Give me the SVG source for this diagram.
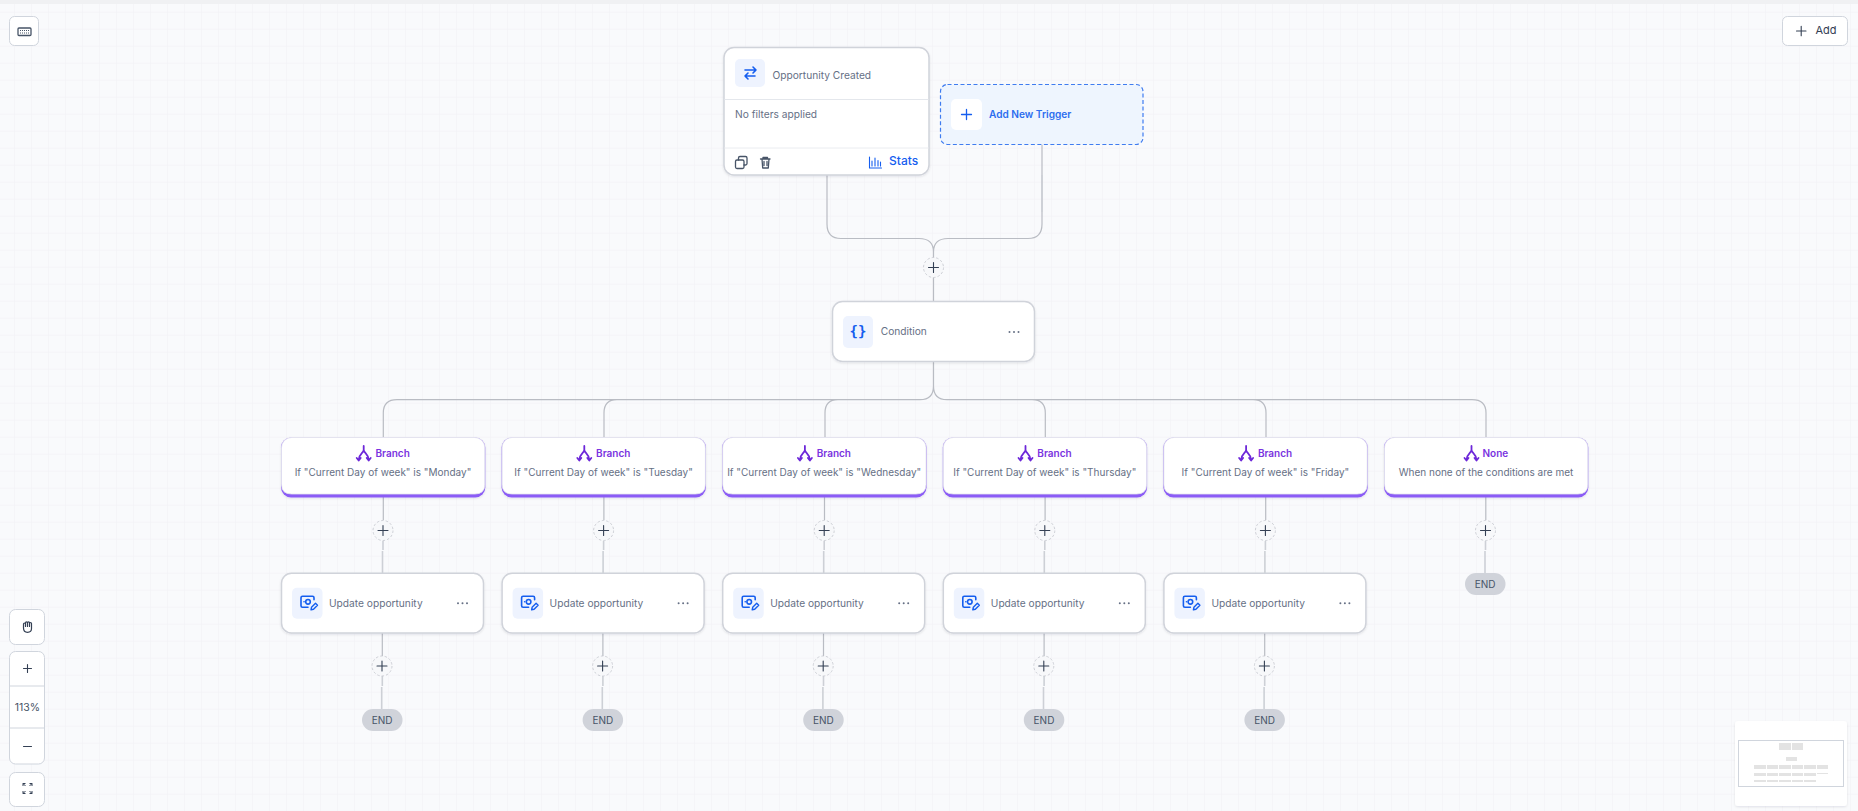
<svg xmlns="http://www.w3.org/2000/svg" width="1858" height="811" viewBox="0 0 1858 811">
<style>
text{font-family:Inter,"Liberation Sans",sans-serif}
.card{fill:#fff;stroke:#d0d3da;stroke-width:1.5;filter:url(#sh)}
.ib{fill:#eef3fe}
.lbl{font-size:10.200px;fill:#667085}
.ic{fill:none;stroke:#155eef;stroke-width:1.6;stroke-linecap:round;stroke-linejoin:round}
.br{font-size:10px;font-weight:600;fill:#7a33e0}
.bric{fill:none;stroke:#6d28d9;stroke-width:1.800;stroke-linecap:round;stroke-linejoin:round}
.cond{font-size:10px;fill:#667085;text-anchor:middle}
.edge{fill:none;stroke:#b9bcc3;stroke-width:1.2}
.edge2{fill:none;stroke:#cdd0d6;stroke-width:1.600}
.dk{fill:none;stroke:#344054;stroke-width:1.100;stroke-linecap:round}
.plusc{fill:#f7f8fa;stroke:#c8cbd1;stroke-width:.9;stroke-dasharray:2.5 2}
.end{fill:#d0d3da}
.endt{font-size:10px;fill:#475467;text-anchor:middle}
.dots{fill:#667085}
.ctl{fill:#fff;stroke:#d0d5dd;stroke-width:1}
.mm{fill:#e3e3e3}
.bcard{fill:#fff;stroke:#e4e7ec;stroke-width:.8}
</style>
<defs>
<filter id="sh" x="-5%" y="-10%" width="110%" height="125%"><feDropShadow dx="0" dy="1" stdDeviation="1.2" flood-color="#101828" flood-opacity=".1"/></filter>
<pattern id="grid" width="17" height="17" patternUnits="userSpaceOnUse" patternTransform="translate(-2 -4.300)"><path d="M17 0V17M0 17H17" fill="none" stroke="#f3f4f7" stroke-width="1.500"/></pattern>
<g id="plus"><circle r="10" class="plusc"/><path class="dk" d="M-5 0H5M0-5V5"/></g>
<g id="dots" class="dots"><circle cx="-4.500" r="1"/><circle r="1"/><circle cx="4.500" r="1"/></g>
<g id="upd">
<rect x="11" y="14.500" width="30.500" height="31" rx="5" class="ib"/>
<g class="ic"><path d="M33 26.500V24.500a1.500 1.500 0 0 0-1.500-1.500H21.500a1.500 1.500 0 0 0-1.500 1.500v8a1.500 1.500 0 0 0 1.500 1.500H27"/><circle cx="27" cy="28.500" r="2.300"/><path d="M23 28.500h.1"/><path d="M30 36.500l.5-2.500 4-4 2 2-4 4z" stroke-width="1.400"/></g>
<text x="48" y="34.200" class="lbl">Update opportunity</text>
<use href="#dots" x="181.500" y="30"/>
</g>
<g id="bric" class="bric"><path d="M0-7V-3C0 0-5 1-5 7M0-3C0 0 5 1 5 7M-7 5l2 2.500 2-2.500M3 5l2 2.500 2-2.500"/></g>
</defs>
<rect width="1858" height="811" fill="#f9fafc"/>
<rect width="1858" height="811" fill="url(#grid)"/>
<rect width="1858" height="4" fill="#f0f1f3"/>

<g id="connectors">
<path class="edge" d="M827 175V224Q827 238.500 841 238.500H919Q933.500 238.500 933.500 252M1042 144.500V224Q1042 238.500 1028 238.500H948Q933.500 238.500 933.500 252V302"/>
<path class="edge" d="M933.500 361V386Q933.500 399.700 920 399.700H397Q383.300 399.700 383.300 413V438M933.500 386Q933.500 399.700 947 399.700H1472Q1486 399.700 1486 413V438M604 438V413Q604 399.700 617 399.700M825 438V413Q825 399.700 838 399.700M1045.300 438V413Q1045.300 399.700 1032 399.700M1266 438V413Q1266 399.700 1253 399.700"/>
<path class="edge" d="M383.300 497V520M382.300 633V656M603.900 497V520M602.900 633V656M824.500 497V520M823.500 633V656M1045.100 497V520M1044.100 633V656M1265.700 497V520M1264.700 633V656M1485.800 497V520"/>
<path class="edge2" d="M382.500 551V573M381.700 687V709M603.100 551V573M602.300 687V709M823.700 551V573M822.900 687V709M1044.300 551V573M1043.500 687V709M1264.900 551V573M1264.100 687V709M1485 551V573"/>
<path class="edge2" d="M383 541V550M382.300 676V686M603.600 541V550M602.900 676V686M824.200 541V550M823.500 676V686M1044.800 541V550M1044.100 676V686M1265.400 541V550M1264.700 676V686M1485.500 541V550"/>
<path class="edge2" d="M1042 175V212"/>
</g>

<g id="trigger">
<rect x="724" y="47.500" width="205" height="127.500" rx="10" class="card"/>
<path d="M724.500 99.500H928.500" stroke="#e4e7ec"/><path d="M724.500 148H928.500" stroke="#eaecf0"/>
<rect x="735" y="59" width="30" height="28" rx="5" class="ib"/>
<path class="ic" d="M745 70.500H756M753 67.500l3 3-3 3M755 76.500H745M748 73.500l-3 3 3 3" transform="translate(0 -.5)"/>
<text x="772.500" y="79" class="lbl">Opportunity Created</text>
<text x="735" y="117.500" class="lbl">No filters applied</text>
<g fill="none" stroke="#475467" stroke-width="1.300" stroke-linejoin="round" stroke-linecap="round"><rect x="735.500" y="160" width="8.500" height="8.500" rx="1.500"/><path d="M738.500 160V158a1.500 1.500 0 0 1 1.500-1.500h5.500a1.500 1.500 0 0 1 1.500 1.500v5.500a1.500 1.500 0 0 1-1.500 1.500H744"/><path d="M760.500 159H770M763 159v-1.500h4.500V159M762 159l.7 9h5.600l.7-9M764 161.500v4M767 161.500v4"/></g>
<path class="ic" stroke-width="1.200" d="M869.500 157V168H881.500M872 166V161M875 166V158M878 166V160.500M880.500 166V162" style="stroke-width:1.100"/>
<text x="889" y="165" font-size="12" font-weight="500" fill="#155eef">Stats</text>
</g>

<g id="add-trigger">
<rect x="940.500" y="84.500" width="202.500" height="60" rx="7" fill="#eef5fe" stroke="#3f7cf0" stroke-width="1.200" stroke-dasharray="4 2.500"/>
<rect x="951" y="99" width="31" height="31" rx="5" fill="#fff"/>
<path class="ic" d="M966.500 109.500V119.500M961.500 114.500H971.500" style="stroke-width:1.300"/>
<text x="989" y="118" font-size="10.100" font-weight="600" fill="#2b6def">Add New Trigger</text>
</g>

<use id="plus-top" href="#plus" x="933.500" y="267.500"/>

<g id="condition">
<rect x="832.500" y="301.500" width="202" height="60" rx="10" class="card"/>
<rect x="843" y="316" width="30" height="32" rx="5" class="ib"/>
<text x="858" y="336" text-anchor="middle" font-size="14" font-weight="600" fill="#155eef" style="font-family:'DejaVu Sans Mono',monospace">{}</text>
<text x="880.700" y="335.200" class="lbl">Condition</text>
<use href="#dots" x="1014" y="332"/>
</g>

<g id="branch-1"><rect x="281" y="437.500" width="204.300" height="60" rx="10" fill="#8b5cf6" filter="url(#sh)"/><path d="M281.500 447.500a10 10 0 0 1 10-10h183.300a10 10 0 0 1 10 10v37q0 9.500-10 9.500h-183.300q-10 0-10-9.500z" class="bcard"/><use href="#bric" x="363.700" y="453"/><text x="375.500" y="457" class="br">Branch</text><text x="383" y="475.500" class="cond">If "Current Day of week" is "Monday"</text></g>
<g id="branch-2"><rect x="501.600" y="437.500" width="204.300" height="60" rx="10" fill="#8b5cf6" filter="url(#sh)"/><path d="M502.100 447.500a10 10 0 0 1 10-10h183.300a10 10 0 0 1 10 10v37q0 9.500-10 9.500h-183.300q-10 0-10-9.500z" class="bcard"/><use href="#bric" x="584.300" y="453"/><text x="596.100" y="457" class="br">Branch</text><text x="603.600" y="475.500" class="cond">If "Current Day of week" is "Tuesday"</text></g>
<g id="branch-3"><rect x="722.200" y="437.500" width="204.300" height="60" rx="10" fill="#8b5cf6" filter="url(#sh)"/><path d="M722.700 447.500a10 10 0 0 1 10-10h183.300a10 10 0 0 1 10 10v37q0 9.500-10 9.500h-183.300q-10 0-10-9.500z" class="bcard"/><use href="#bric" x="804.900" y="453"/><text x="816.700" y="457" class="br">Branch</text><text x="824.200" y="475.500" class="cond">If "Current Day of week" is "Wednesday"</text></g>
<g id="branch-4"><rect x="942.800" y="437.500" width="204.300" height="60" rx="10" fill="#8b5cf6" filter="url(#sh)"/><path d="M943.300 447.500a10 10 0 0 1 10-10h183.300a10 10 0 0 1 10 10v37q0 9.500-10 9.500h-183.300q-10 0-10-9.500z" class="bcard"/><use href="#bric" x="1025.500" y="453"/><text x="1037.300" y="457" class="br">Branch</text><text x="1044.800" y="475.500" class="cond">If "Current Day of week" is "Thursday"</text></g>
<g id="branch-5"><rect x="1163.400" y="437.500" width="204.300" height="60" rx="10" fill="#8b5cf6" filter="url(#sh)"/><path d="M1163.900 447.500a10 10 0 0 1 10-10h183.300a10 10 0 0 1 10 10v37q0 9.500-10 9.500h-183.300q-10 0-10-9.500z" class="bcard"/><use href="#bric" x="1246.100" y="453"/><text x="1257.900" y="457" class="br">Branch</text><text x="1265.400" y="475.500" class="cond">If "Current Day of week" is "Friday"</text></g>
<g id="branch-none"><rect x="1384" y="437.500" width="204.300" height="60" rx="10" fill="#8b5cf6" filter="url(#sh)"/><path d="M1384.500 447.500a10 10 0 0 1 10-10h183.300a10 10 0 0 1 10 10v37q0 9.500-10 9.500h-183.300q-10 0-10-9.500z" class="bcard"/><use href="#bric" x="1471.500" y="453"/><text x="1482.500" y="457" class="br">None</text><text x="1486" y="475.500" class="cond">When none of the conditions are met</text></g>

<use href="#plus" x="383" y="530.500"/><use href="#plus" x="603.600" y="530.500"/><use href="#plus" x="824.200" y="530.500"/><use href="#plus" x="1044.800" y="530.500"/><use href="#plus" x="1265.400" y="530.500"/><use href="#plus" x="1485.500" y="530.500"/>

<g id="update-1" transform="translate(281 573.300)"><rect x=".5" y="0" width="202" height="59.700" rx="10" class="card"/><use href="#upd"/></g>
<g id="update-2" transform="translate(501.600 573.300)"><rect x=".5" y="0" width="202" height="59.700" rx="10" class="card"/><use href="#upd"/></g>
<g id="update-3" transform="translate(722.200 573.300)"><rect x=".5" y="0" width="202" height="59.700" rx="10" class="card"/><use href="#upd"/></g>
<g id="update-4" transform="translate(942.800 573.300)"><rect x=".5" y="0" width="202" height="59.700" rx="10" class="card"/><use href="#upd"/></g>
<g id="update-5" transform="translate(1163.400 573.300)"><rect x=".5" y="0" width="202" height="59.700" rx="10" class="card"/><use href="#upd"/></g>

<use href="#plus" x="382" y="666"/><use href="#plus" x="602.600" y="666"/><use href="#plus" x="823.200" y="666"/><use href="#plus" x="1043.800" y="666"/><use href="#plus" x="1264.400" y="666"/>

<g id="end-1"><rect x="362" y="709" width="40.500" height="22" rx="11" class="end"/><text x="382.200" y="723.600" class="endt">END</text></g>
<g id="end-2"><rect x="582.600" y="709" width="40.500" height="22" rx="11" class="end"/><text x="602.800" y="723.600" class="endt">END</text></g>
<g id="end-3"><rect x="803.200" y="709" width="40.500" height="22" rx="11" class="end"/><text x="823.400" y="723.600" class="endt">END</text></g>
<g id="end-4"><rect x="1023.800" y="709" width="40.500" height="22" rx="11" class="end"/><text x="1044" y="723.600" class="endt">END</text></g>
<g id="end-5"><rect x="1244.400" y="709" width="40.500" height="22" rx="11" class="end"/><text x="1264.600" y="723.600" class="endt">END</text></g>
<g id="end-6"><rect x="1465" y="573" width="40.500" height="22" rx="11" class="end"/><text x="1485.200" y="587.600" class="endt">END</text></g>

<g id="keyboard-button"><rect x="9.500" y="16.500" width="29" height="29" rx="5" class="ctl"/><rect x="18" y="28" width="13" height="7.500" rx="1" fill="none" stroke="#475467" stroke-width="1.300"/><path d="M20 30.500h9M20 33h9" stroke="#475467" stroke-width="1" stroke-dasharray="1 1"/></g>
<g id="add-button"><rect x="1782.500" y="16.500" width="65" height="29" rx="5" class="ctl"/><path class="dk" d="M1796.500 31H1806M1801.200 26.200V35.800"/><text x="1815.500" y="34" font-size="11" fill="#344054">Add</text></g>

<g id="hand-button"><rect x="9.500" y="609.500" width="35" height="35" rx="6" class="ctl"/><path fill="none" stroke="#344054" stroke-width="1.200" stroke-linejoin="round" stroke-linecap="round" d="M23.500 628v-4a1 1 0 0 1 2 0v-1.200a1 1 0 0 1 2 0a1 1 0 0 1 2 0v.7a1 1 0 0 1 2 0v5q0 3.800-4 3.800t-4-4.300zM25.500 623.500v3M27.500 622.800v3.700M29.500 622.800v3.700"/></g>
<g id="zoom-controls"><rect x="9.500" y="651.500" width="35" height="112.500" rx="6" class="ctl"/><path d="M10 686H44M10 728H44" stroke="#d0d5dd"/><path class="dk" d="M23.500 668.500H31.500M27.500 664.500V672.500M23.500 746.500H31.500"/><text x="27.300" y="711" font-size="10.500" fill="#475467" text-anchor="middle">113%</text></g>
<g id="fit-button"><rect x="9.500" y="772.500" width="35" height="34" rx="6" class="ctl"/><path d="M23 786v-2.500h2.500M23 783.500l2.500 2.500M32 786v-2.500h-2.500M32 783.500l-2.500 2.500M23 791v2.500h2.500M23 793.500l2.500-2.500M32 791v2.500h-2.500M32 793.500l-2.500-2.500" fill="none" stroke="#344054" stroke-width="1"/></g>

<g id="minimap"><rect x="1735" y="721" width="112" height="85" rx="3" fill="#fff" filter="url(#sh)"/><rect x="1738.500" y="740.500" width="105" height="46" fill="none" stroke="#d0d5dd" stroke-width="1"/>
<path class="mm" d="M1779 743h12v7h-12zM1792 743h11v7h-11zM1786 757h11v4h-11zM1754 765h12v4h-12zM1767 765h11v4h-11zM1779 765h12v4h-12zM1792 765h11v4h-11zM1804 765h12v4h-12zM1817 765h11v4h-11zM1754 773h12v3h-12zM1767 773h11v3h-11zM1779 773h12v3h-12zM1792 773h11v3h-11zM1804 773h12v3h-12zM1817 773h11v1h-11zM1754 780h12v2h-12zM1767 780h11v2h-11zM1779 780h12v2h-12zM1792 780h11v2h-11zM1804 780h12v2h-12z"/></g>
</svg>
